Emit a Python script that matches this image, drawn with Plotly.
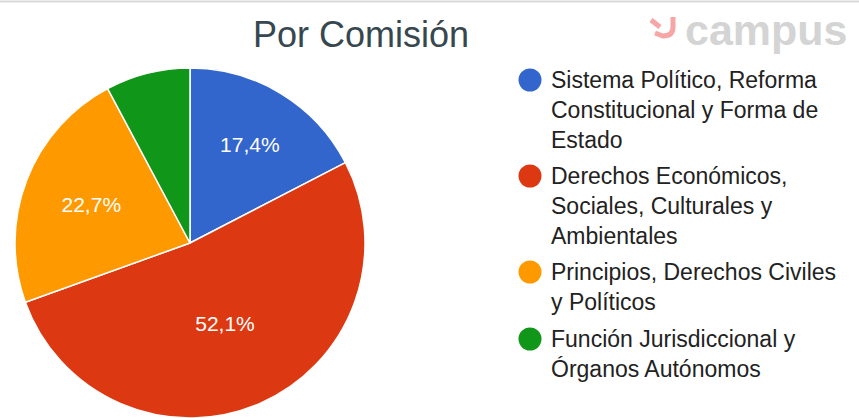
import plotly.graph_objects as go

W, H = 859, 418

categories = [
    "Sistema Político, Reforma<br>Constitucional y Forma de<br>Estado",
    "Derechos Económicos,<br>Sociales, Culturales y<br>Ambientales",
    "Principios, Derechos Civiles<br>y Políticos",
    "Función Jurisdiccional y<br>Órganos Autónomos",
]
values = [17.4, 52.1, 22.7, 7.8]
colors = ["#3366cc", "#dc3912", "#ff9900", "#109618"]
title = "Por Comisión"

FONT = "Liberation Sans, Arial, sans-serif"


def px(x):
    return x / W


def py(y):
    return 1 - y / H


# percentage label on each slice, hidden on the small green one (like the original)
texts = ["%{percent:.1%}" if v >= 10 else "" for v in values]

fig = go.Figure()
fig.add_trace(go.Pie(
    labels=categories,
    values=values,
    marker=dict(colors=colors, line=dict(color="white", width=1.5)),
    sort=False,
    direction="clockwise",
    rotation=0,
    texttemplate=texts,
    textposition="inside",
    insidetextorientation="horizontal",
    textfont=dict(color="white", size=21, family=FONT),
    hoverinfo="label+percent",
    showlegend=False,
    domain=dict(x=[px(15), px(365)], y=[0, 350 / H]),
))

shapes = []
annotations = []

# thin grey rule at the very top
shapes.append(dict(type="line", xref="paper", yref="paper",
                   x0=0, x1=1, y0=py(1.5), y1=py(1.5),
                   line=dict(color="#d9d9d9", width=2)))

# hand-made legend with round markers
top = 65
line_h = 29
gap = 9
for name, col in zip(categories, colors):
    n = name.count("<br>") + 1
    cy = top + 15
    shapes.append(dict(type="circle", xref="paper", yref="paper",
                       x0=px(518.5), x1=px(541.5), y0=py(cy + 11.5), y1=py(cy - 11.5),
                       fillcolor=col, line=dict(width=0)))
    annotations.append(dict(text=name, xref="paper", yref="paper",
                            x=px(549), y=py(top), xanchor="left", yanchor="top",
                            align="left", showarrow=False,
                            font=dict(size=23, color="#222222", family=FONT)))
    top += n * line_h + gap

# logo in the top right corner
annotations.append(dict(text="<b>campus</b>", xref="paper", yref="paper",
                        x=px(683), y=py(30), xanchor="left", yanchor="middle",
                        showarrow=False,
                        font=dict(size=43, color="#d4d4d4", family=FONT)))
shapes.append(dict(type="path", xref="paper", yref="paper",
                   path=f"M {px(651)},{py(20)} L {px(660)},{py(27)} "
                        f"M {px(673)},{py(17)} L {px(673)},{py(27)} "
                        f"Q {px(673)},{py(36)} {px(663)},{py(36)} L {px(655)},{py(33)}",
                   line=dict(color="#f7a6a6", width=5)))

fig.update_layout(
    width=W, height=H,
    margin=dict(l=0, r=0, t=0, b=0),
    paper_bgcolor="white",
    plot_bgcolor="white",
    separators=",.",
    title=dict(text=title, x=px(361), xref="paper", xanchor="center",
               y=py(34), yref="paper", yanchor="middle",
               font=dict(size=36, color="#37474f", family=FONT)),
    shapes=shapes,
    annotations=annotations,
)

# drop the browser's default 8px page margin so the figure sits at (0, 0)
fig.write_html("out.html", config={"displayModeBar": False},
               post_script="document.body.style.margin='0';")
